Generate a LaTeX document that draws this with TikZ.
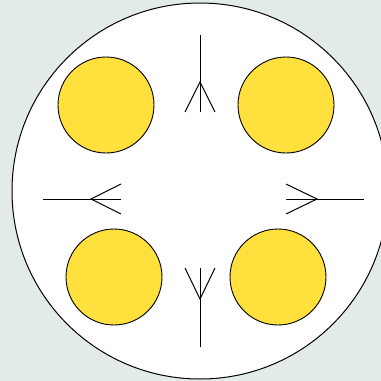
\documentclass[tikz,border=0pt]{standalone}
\definecolor{bgc}{HTML}{E3EBE8}
\definecolor{yel}{HTML}{FFE03C}
\tikzset{
  disk/.style={circle, draw=black, fill=yel, line width=0.9pt, minimum size=96pt, inner sep=0pt},
  bigdisk/.style={circle, draw=black, fill=white, line width=1pt, minimum size=376pt, inner sep=0pt},
  stroke/.style={draw=black, line width=1pt},
  foot/.style={draw=black, line width=1pt}
}
\begin{document}
\begin{tikzpicture}[x=1pt,y=-1pt]
\useasboundingbox (0,0) rectangle (381,381);
\fill[bgc] (0,0) rectangle (381,381);
\begin{scope}
\clip (0,0) rectangle (381,381);
\node[bigdisk] (outer) at (200,191) {};
\end{scope}
\node[disk] (tl) at (106,105) {};
\node[disk] (tr) at (286,105) {};
\node[disk] (bl) at (114,277) {};
\node[disk] (br) at (278,277) {};
% top marker
\coordinate (ta) at (200,35);
\coordinate (tb) at (200,112);
\coordinate (tv) at (200,82);
\coordinate (tf1) at (185,112);
\coordinate (tf2) at (215,112);
\draw[stroke] (ta) -- (tb);
\draw[foot] (tf1) -- (tv) -- (tf2);
% left marker
\coordinate (la) at (43,199);
\coordinate (lb) at (121,199);
\coordinate (lv) at (91,199);
\coordinate (lf1) at (121,184);
\coordinate (lf2) at (121,214);
\draw[stroke] (la) -- (lb);
\draw[foot] (lf1) -- (lv) -- (lf2);
% right marker
\coordinate (ra) at (364,199);
\coordinate (rb) at (286,199);
\coordinate (rv) at (317,199);
\coordinate (rf1) at (286,184);
\coordinate (rf2) at (286,214);
\draw[stroke] (ra) -- (rb);
\draw[foot] (rf1) -- (rv) -- (rf2);
% bottom marker
\coordinate (ba) at (200,347);
\coordinate (bb) at (200,268);
\coordinate (bv) at (200,299);
\coordinate (bf1) at (185,268);
\coordinate (bf2) at (215,268);
\draw[stroke] (ba) -- (bb);
\draw[foot] (bf1) -- (bv) -- (bf2);
\end{tikzpicture}
\end{document}
